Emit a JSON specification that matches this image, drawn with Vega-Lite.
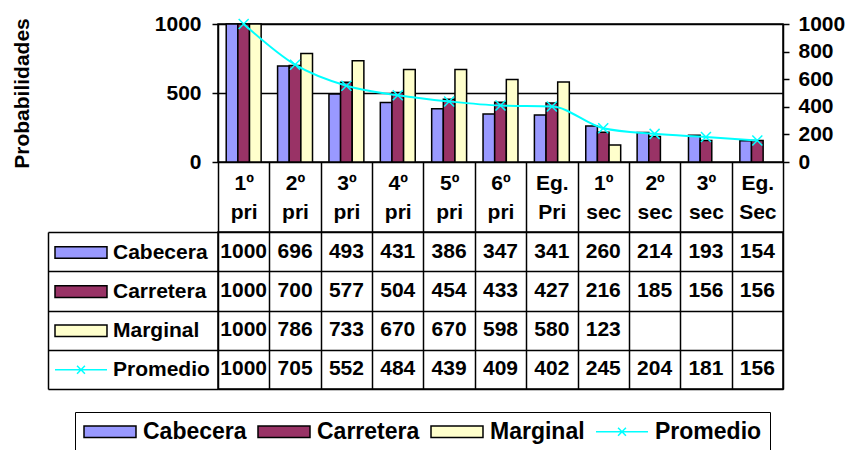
{
  "$schema": "https://vega.github.io/schema/vega-lite/v6.json",
  "autosize": {"type": "none"},
  "padding": {"left": 218, "top": 24, "right": 631, "bottom": 426},
  "background": "white",
  "config": {
    "font": "Liberation Sans",
    "view": {"stroke": "#000000", "strokeWidth": 1.5},
    "axis": {"labelFont": "Liberation Sans", "labelFontSize": 21, "labelFontWeight": "bold", "labelColor": "#000000", "domainColor": "#000000", "tickColor": "#000000", "gridColor": "#000000", "domainWidth": 1.5, "tickWidth": 1.5, "gridWidth": 1.5, "gridOpacity": 1},
    "legend": {"labelFont": "Liberation Sans", "labelFontSize": 21, "labelFontWeight": "bold", "labelColor": "#000000"}
  },
  "data": {"values": [
    {"cat": "1º pri", "series": "Cabecera", "value": 1000},
    {"cat": "2º pri", "series": "Cabecera", "value": 696},
    {"cat": "3º pri", "series": "Cabecera", "value": 493},
    {"cat": "4º pri", "series": "Cabecera", "value": 431},
    {"cat": "5º pri", "series": "Cabecera", "value": 386},
    {"cat": "6º pri", "series": "Cabecera", "value": 347},
    {"cat": "Eg. Pri", "series": "Cabecera", "value": 341},
    {"cat": "1º sec", "series": "Cabecera", "value": 260},
    {"cat": "2º sec", "series": "Cabecera", "value": 214},
    {"cat": "3º sec", "series": "Cabecera", "value": 193},
    {"cat": "Eg. Sec", "series": "Cabecera", "value": 154},
    {"cat": "1º pri", "series": "Carretera", "value": 1000},
    {"cat": "2º pri", "series": "Carretera", "value": 700},
    {"cat": "3º pri", "series": "Carretera", "value": 577},
    {"cat": "4º pri", "series": "Carretera", "value": 504},
    {"cat": "5º pri", "series": "Carretera", "value": 454},
    {"cat": "6º pri", "series": "Carretera", "value": 433},
    {"cat": "Eg. Pri", "series": "Carretera", "value": 427},
    {"cat": "1º sec", "series": "Carretera", "value": 216},
    {"cat": "2º sec", "series": "Carretera", "value": 185},
    {"cat": "3º sec", "series": "Carretera", "value": 156},
    {"cat": "Eg. Sec", "series": "Carretera", "value": 156},
    {"cat": "1º pri", "series": "Marginal", "value": 1000},
    {"cat": "2º pri", "series": "Marginal", "value": 786},
    {"cat": "3º pri", "series": "Marginal", "value": 733},
    {"cat": "4º pri", "series": "Marginal", "value": 670},
    {"cat": "5º pri", "series": "Marginal", "value": 670},
    {"cat": "6º pri", "series": "Marginal", "value": 598},
    {"cat": "Eg. Pri", "series": "Marginal", "value": 580},
    {"cat": "1º sec", "series": "Marginal", "value": 123},
    {"cat": "1º pri", "series": "Promedio", "value": 1000},
    {"cat": "2º pri", "series": "Promedio", "value": 705},
    {"cat": "3º pri", "series": "Promedio", "value": 552},
    {"cat": "4º pri", "series": "Promedio", "value": 484},
    {"cat": "5º pri", "series": "Promedio", "value": 439},
    {"cat": "6º pri", "series": "Promedio", "value": 409},
    {"cat": "Eg. Pri", "series": "Promedio", "value": 402},
    {"cat": "1º sec", "series": "Promedio", "value": 245},
    {"cat": "2º sec", "series": "Promedio", "value": 204},
    {"cat": "3º sec", "series": "Promedio", "value": 181},
    {"cat": "Eg. Sec", "series": "Promedio", "value": 156}
  ]},
  "bounds": "flush",
  "spacing": 70,
  "vconcat": [
    {
      "width": 565,
      "height": 138,
      "layer": [
        {
          "transform": [{"filter": "datum.series !== 'Promedio'"}],
          "mark": {"type": "bar", "stroke": "#000000", "strokeWidth": 1.5},
          "encoding": {
            "x": {"field": "cat", "type": "nominal", "scale": {"domain": ["1º pri", "2º pri", "3º pri", "4º pri", "5º pri", "6º pri", "Eg. Pri", "1º sec", "2º sec", "3º sec", "Eg. Sec"], "paddingInner": 0.32, "paddingOuter": 0.16}, "axis": null},
            "xOffset": {"field": "series", "type": "nominal", "scale": {"domain": ["Cabecera", "Carretera", "Marginal"], "paddingInner": 0, "paddingOuter": 0}},
            "y": {"field": "value", "type": "quantitative", "scale": {"domain": [0, 1000], "nice": false},
              "axis": {"orient": "left", "values": [0, 500, 1000], "format": "d", "grid": true, "tickSize": 6, "labelPadding": 11, "domain": true,
                "title": "Probabilidades", "titleX": -186, "titleY": 69, "titleAngle": 270, "titleAlign": "center", "titleBaseline": "bottom",
                "titleFont": "Liberation Sans", "titleFontSize": 21, "titleFontWeight": "bold", "titleColor": "#000000"}},
            "color": {"field": "series", "type": "nominal",
              "scale": {"domain": ["Cabecera", "Carretera", "Marginal", "Promedio"], "range": ["#9999FF", "#993366", "#FFFFCC", "#00FFFF"]},
              "legend": {"orient": "none", "legendX": -143, "legendY": 388, "direction": "horizontal", "columns": 4, "title": null,
                "symbolSize": 441, "labelOffset": 37, "columnPadding": 8, "padding": 8, "labelFontSize": 23,
                "strokeColor": "#000000", "fillColor": "#FFFFFF",
                "encoding": {"symbols": {
                  "shape": {"condition": {"test": "datum.value === 'Promedio'", "value": "M-1,0H3.952M1.1,-0.38L1.85,0.38M1.1,0.38L1.85,-0.38"}, "value": "M-1,-0.55H3.952V0.55H-1Z"},
                  "stroke": {"condition": {"test": "datum.value === 'Promedio'", "value": "#00FFFF"}, "value": "#000000"},
                  "strokeWidth": {"value": 1.5},
                  "opacity": {"value": 1},
                  "size": {"value": 441}
                }}}}
          }
        },
        {
          "transform": [{"filter": "datum.series === 'Promedio'"}],
          "mark": {"type": "line", "stroke": "#00FFFF", "strokeWidth": 2, "interpolate": "monotone"},
          "encoding": {
            "x": {"field": "cat", "type": "nominal", "scale": {"domain": ["1º pri", "2º pri", "3º pri", "4º pri", "5º pri", "6º pri", "Eg. Pri", "1º sec", "2º sec", "3º sec", "Eg. Sec"]}, "axis": null},
            "y": {"field": "value", "type": "quantitative",
              "axis": {"orient": "right", "values": [0, 200, 400, 600, 800, 1000], "format": "d", "grid": false, "tickSize": 6, "labelPadding": 9, "domain": true, "title": null}}
          }
        },
        {
          "transform": [{"filter": "datum.series === 'Promedio'"}],
          "mark": {"type": "point", "shape": "M-1,-1L1,1M-1,1L1,-1", "filled": false, "stroke": "#00FFFF", "strokeWidth": 1.5, "size": 100, "opacity": 1},
          "encoding": {
            "x": {"field": "cat", "type": "nominal", "scale": {"domain": ["1º pri", "2º pri", "3º pri", "4º pri", "5º pri", "6º pri", "Eg. Pri", "1º sec", "2º sec", "3º sec", "Eg. Sec"]}, "axis": null},
            "y": {"field": "value", "type": "quantitative", "axis": null}
          }
        }
      ],
      "resolve": {"axis": {"y": "independent"}}
    },
    {
      "width": 565,
      "height": 157,
      "layer": [
        {
          "mark": {"type": "text", "font": "Liberation Sans", "fontSize": 21, "fontWeight": "bold", "color": "#000000"},
          "encoding": {
            "x": {"field": "cat", "type": "nominal", "scale": {"domain": ["1º pri", "2º pri", "3º pri", "4º pri", "5º pri", "6º pri", "Eg. Pri", "1º sec", "2º sec", "3º sec", "Eg. Sec"], "paddingInner": 0, "paddingOuter": 0},
              "axis": {"orient": "top", "title": null, "tickBand": "extent", "tickSize": 70, "domain": false, "grid": true,
                "labelExpr": "split(datum.label, ' ')", "labelPadding": -21, "labelBaseline": "middle", "labelLineHeight": 29, "labelAngle": 0}},
            "y": {"field": "series", "type": "nominal", "scale": {"domain": ["Cabecera", "Carretera", "Marginal", "Promedio"], "paddingInner": 0, "paddingOuter": 0},
              "axis": {"orient": "left", "title": null, "tickBand": "extent", "tickSize": 170, "domain": false, "grid": true, "labels": false}},
            "text": {"field": "value", "type": "nominal"}
          }
        },
        {
          "mark": {"type": "point", "filled": true, "opacity": 0},
          "encoding": {
            "y": {"field": "series", "type": "nominal", "scale": {"domain": ["Cabecera", "Carretera", "Marginal", "Promedio"]},
              "axis": {"orient": "left", "title": null, "offset": 170, "domain": true, "ticks": false, "labels": false, "grid": false}},
            "color": {"field": "series", "type": "nominal",
              "scale": {"domain": ["Cabecera", "Carretera", "Marginal", "Promedio"], "range": ["#9999FF", "#993366", "#FFFFCC", "#00FFFF"]},
              "legend": {"orient": "none", "legendX": -164, "legendY": 9, "direction": "vertical", "title": null,
                "symbolSize": 441, "labelOffset": 36, "rowPadding": 17.1, "padding": 0,
                "encoding": {"symbols": {
                  "shape": {"condition": {"test": "datum.value === 'Promedio'", "value": "M-1,0H3.952M1.1,-0.38L1.85,0.38M1.1,0.38L1.85,-0.38"}, "value": "M-1,-0.55H3.952V0.55H-1Z"},
                  "stroke": {"condition": {"test": "datum.value === 'Promedio'", "value": "#00FFFF"}, "value": "#000000"},
                  "strokeWidth": {"value": 1.5},
                  "opacity": {"value": 1},
                  "size": {"value": 441}
                }}}}
          }
        }
      ],
      "resolve": {"axis": {"y": "independent"}}
    }
  ],
  "resolve": {"scale": {"color": "independent"}, "legend": {"color": "independent"}}
}
